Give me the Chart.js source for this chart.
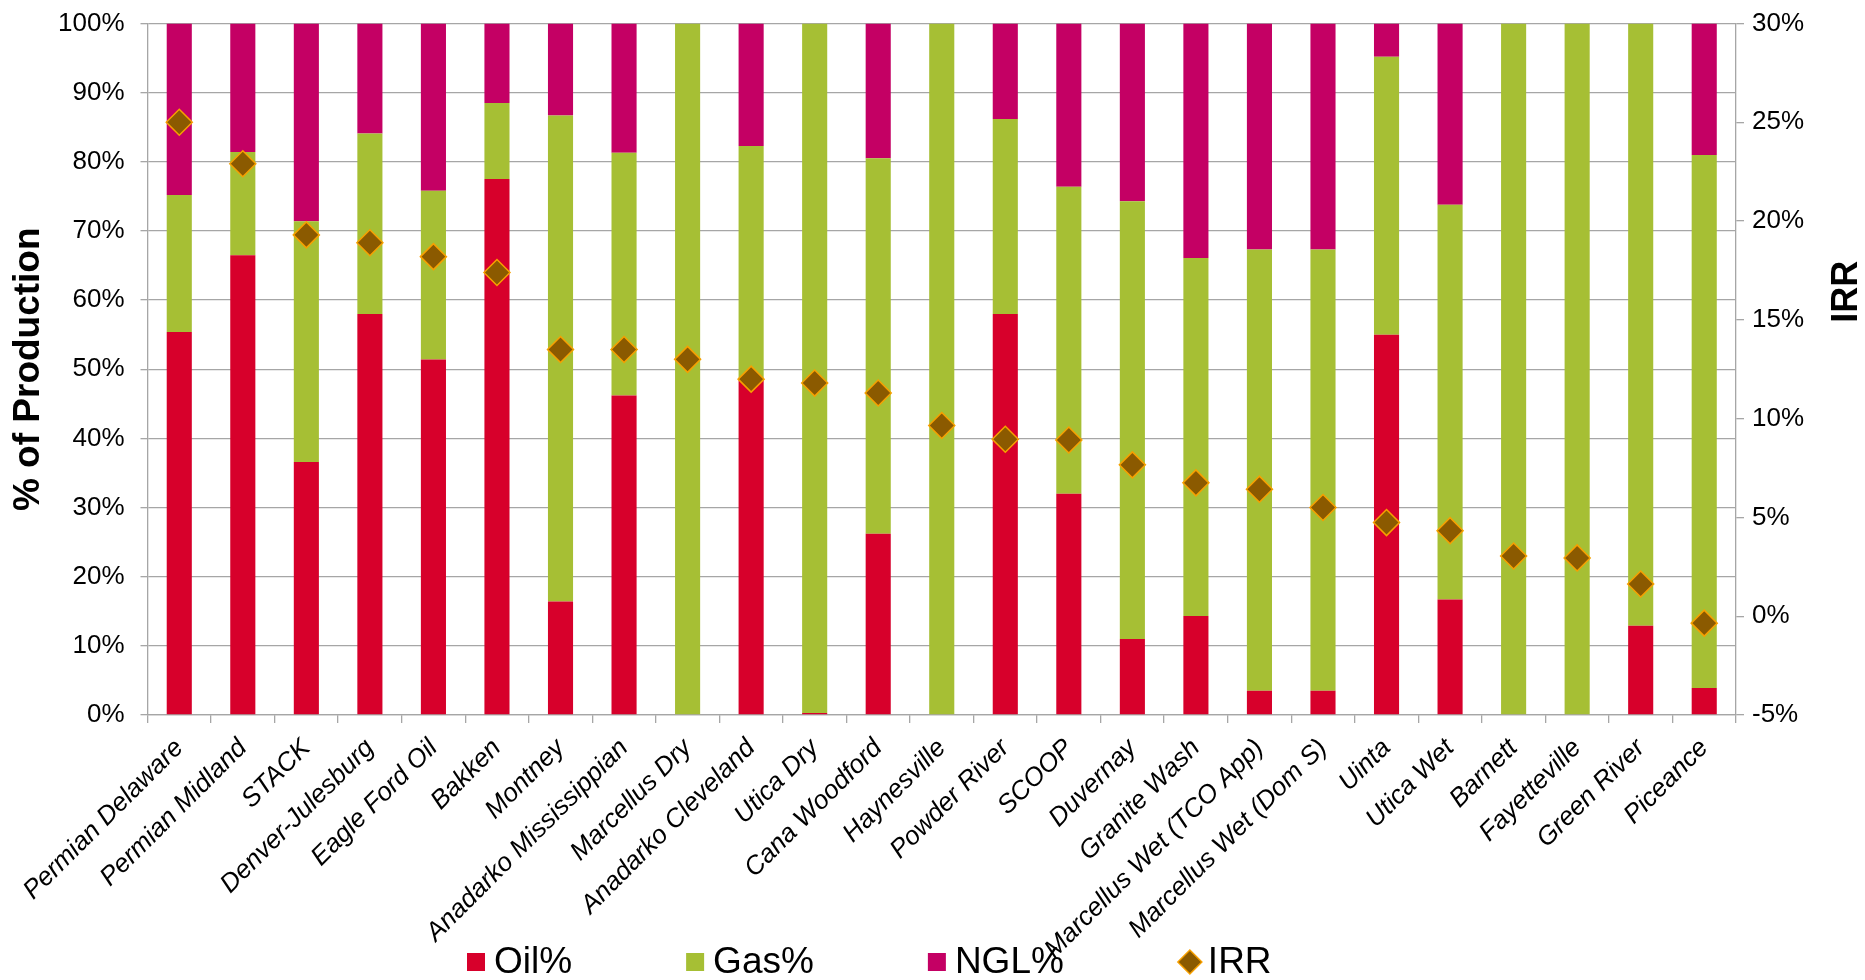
<!DOCTYPE html>
<html>
<head>
<meta charset="utf-8">
<title>Production mix and IRR by play</title>
<script src="https://cdn.jsdelivr.net/npm/chart.js@4/dist/chart.umd.min.js"></script>
<style>
  html, body { margin: 0; padding: 0; background: #ffffff; overflow: hidden; }
  canvas { display: block; }
</style>
</head>
<body>
<canvas id="mix" width="1865" height="980"></canvas>
<script>
// Plays, in descending IRR order
const basins = [
  'Permian Delaware', 'Permian Midland', 'STACK', 'Denver-Julesburg', 'Eagle Ford Oil',
  'Bakken', 'Montney', 'Anadarko Mississippian', 'Marcellus Dry', 'Anadarko Cleveland',
  'Utica Dry', 'Cana Woodford', 'Haynesville', 'Powder River', 'SCOOP',
  'Duvernay', 'Granite Wash', 'Marcellus Wet (TCO App)', 'Marcellus Wet (Dom S)', 'Uinta',
  'Utica Wet', 'Barnett', 'Fayetteville', 'Green River', 'Piceance'
];

// Share of production (%)
const oilPct = [55.4, 66.5, 36.6, 58.0, 51.4, 77.5, 16.4, 46.2, 0, 48.4,
                0.3, 26.2, 0, 58.0, 32.0, 11.0, 14.3, 3.5, 3.5, 55.0,
                16.7, 0, 0, 12.9, 3.9];
const gasPct = [19.8, 14.9, 34.8, 26.1, 24.4, 11.0, 70.3, 35.1, 100, 33.9,
                99.7, 54.3, 100, 28.2, 44.4, 63.3, 51.8, 63.8, 63.8, 40.2,
                57.1, 100, 100, 87.1, 77.1];
const nglPct = [24.8, 18.6, 28.6, 15.9, 24.2, 11.5, 13.3, 18.7, 0, 17.7,
                0, 19.5, 0, 13.8, 23.6, 25.7, 33.9, 32.7, 32.7, 4.8,
                26.2, 0, 0, 0, 19.0];

// Internal rate of return (%)
const irrPct = [25.0, 22.9, 19.3, 18.9, 18.2, 17.4, 13.5, 13.5, 13.0, 12.0,
                11.8, 11.3, 9.65, 8.96, 8.92, 7.66, 6.75, 6.43, 5.5, 4.74,
                4.33, 3.05, 2.95, 1.63, -0.35];

// Axis ranges
const shareRange = { min: 0, max: 100, step: 10 };
const irrRange = { min: -5, max: 30, step: 5 };

const COLORS = {
  oil: '#D7002B',
  gas: '#A6BF34',
  ngl: '#C40064',
  irrFill: '#8B5A00',
  irrEdge: '#F7A000',
  grid: '#A6A6A6',
  text: '#000000'
};
const FONT = '"Liberation Sans", Arial, Helvetica, sans-serif';

// Legend strip along the bottom edge
const bottomLegend = {
  id: 'bottomLegend',
  afterDraw(chart) {
    const ctx = chart.ctx;
    const y = 962;
    let x = 467;
    ctx.save();
    ctx.font = '37px ' + FONT;
    ctx.textBaseline = 'middle';
    ctx.textAlign = 'left';
    chart.data.datasets.forEach(ds => {
      let w;
      if (ds.type === 'line') {
        const r = 12;
        ctx.beginPath();
        ctx.moveTo(x, y);
        ctx.lineTo(x + r, y - r);
        ctx.lineTo(x + 2 * r, y);
        ctx.lineTo(x + r, y + r);
        ctx.closePath();
        ctx.fillStyle = ds.backgroundColor;
        ctx.fill();
        ctx.lineWidth = 1.5;
        ctx.strokeStyle = ds.borderColor;
        ctx.stroke();
        w = 2 * r + 6;
      } else {
        ctx.fillStyle = ds.backgroundColor;
        ctx.fillRect(x, y - 9, 18, 18);
        w = 18 + 9;
      }
      x += w;
      ctx.fillStyle = COLORS.text;
      ctx.fillText(ds.label, x, y + 1);
      x += ctx.measureText(ds.label).width + 114;
    });
    ctx.restore();
  }
};

// Title of the right-hand axis, reading upwards
const irrAxisTitle = {
  id: 'irrAxisTitle',
  afterDraw(chart) {
    const { ctx, chartArea } = chart;
    const cy = chartArea.top + (chartArea.bottom - chartArea.top) * 0.388;
    ctx.save();
    ctx.translate(1847, cy);
    ctx.rotate(-Math.PI / 2);
    ctx.font = 'bold 36px ' + FONT;
    ctx.fillStyle = COLORS.text;
    ctx.textAlign = 'center';
    ctx.textBaseline = 'middle';
    ctx.fillText('IRR', 0, 0);
    ctx.restore();
  }
};

const barCommon = {
  type: 'bar',
  yAxisID: 'y',
  order: 1,
  barPercentage: 0.395,
  categoryPercentage: 1.0,
  borderWidth: 0
};

// Fixed axis widths; the plot area edges come from the layout padding
function fixWidth(w) {
  return scale => {
    scale.width = w;
    scale.paddingTop = 0;
    scale.paddingBottom = 0;
  };
}

new Chart(document.getElementById('mix'), {
  type: 'bar',
  data: {
    labels: basins,
    datasets: [
      Object.assign({ label: 'Oil%', data: oilPct, backgroundColor: COLORS.oil }, barCommon),
      Object.assign({ label: 'Gas%', data: gasPct, backgroundColor: COLORS.gas }, barCommon),
      Object.assign({ label: 'NGL%', data: nglPct, backgroundColor: COLORS.ngl }, barCommon),
      {
        type: 'line',
        label: 'IRR',
        data: irrPct,
        yAxisID: 'y1',
        order: 0,
        showLine: false,
        pointStyle: 'rectRot',
        pointRadius: 13,
        pointHoverRadius: 13,
        pointBorderWidth: 1.5,
        backgroundColor: COLORS.irrFill,
        borderColor: COLORS.irrEdge,
        clip: false
      }
    ]
  },
  options: {
    responsive: false,
    animation: false,
    devicePixelRatio: 1,
    layout: { padding: { top: 23.5, left: 0, right: 0, bottom: 0 } },
    plugins: {
      legend: { display: false },
      tooltip: { enabled: false }
    },
    scales: {
      x: {
        stacked: true,
        offset: true,
        grid: {
          offset: true,
          drawOnChartArea: false,
          drawTicks: true,
          tickLength: 8,
          color: COLORS.grid,
          lineWidth: 1.3
        },
        border: { display: true, color: COLORS.grid, width: 1.3 },
        ticks: {
          autoSkip: false,
          minRotation: 45,
          maxRotation: 45,
          padding: 10,
          color: COLORS.text,
          font: { family: FONT, size: 26, style: 'italic' }
        },
        afterFit(scale) { scale.height = 265; }
      },
      y: {
        stacked: true,
        position: 'left',
        min: shareRange.min,
        max: shareRange.max,
        grid: {
          color: COLORS.grid,
          lineWidth: 1.3,
          drawTicks: true,
          tickLength: 7
        },
        border: { display: true, color: COLORS.grid, width: 1.3 },
        ticks: {
          stepSize: shareRange.step,
          padding: 16,
          color: COLORS.text,
          font: { family: FONT, size: 26 },
          callback: v => v + '%'
        },
        title: {
          display: true,
          text: '% of Production',
          color: COLORS.text,
          font: { family: FONT, size: 37, weight: 'bold' },
          padding: { top: 7, bottom: 0 }
        },
        afterFit: fixWidth(147.5)
      },
      y1: {
        position: 'right',
        min: irrRange.min,
        max: irrRange.max,
        grid: {
          drawOnChartArea: false,
          drawTicks: true,
          tickLength: 8,
          color: COLORS.grid,
          lineWidth: 1.3
        },
        border: { display: true, color: COLORS.grid, width: 1.3 },
        ticks: {
          stepSize: irrRange.step,
          padding: 8,
          color: COLORS.text,
          font: { family: FONT, size: 26 },
          callback: v => v + '%'
        },
        afterFit: fixWidth(129)
      }
    }
  },
  plugins: [bottomLegend, irrAxisTitle]
});
</script>
</body>
</html>
